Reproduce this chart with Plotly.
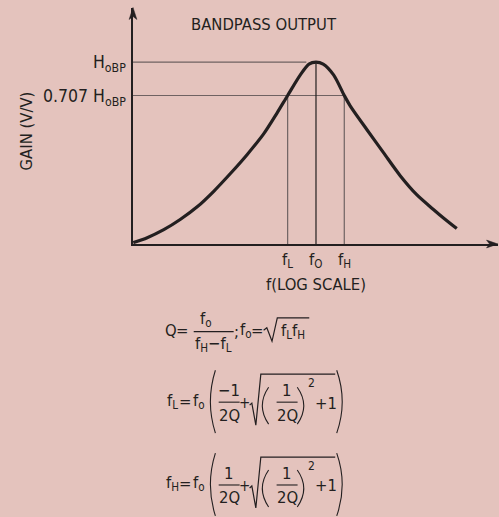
import numpy as np
import plotly.graph_objects as go

W, H = 499, 517

# Bandpass response: frequency normalised to f0 (log axis) and gain relative to H_oBP
freq = [0.0148, 0.0204, 0.0299, 0.0440, 0.0646, 0.0946, 0.139, 0.204, 0.299,
        0.407, 0.52, 0.697, 0.85, 1.0, 1.18, 1.50, 1.92, 2.20, 3.24, 4.74,
        6.97, 10.2, 15.0, 19.6, 25.7]
gain = [0.153, 0.161, 0.175, 0.195, 0.222, 0.261, 0.314, 0.382, 0.474,
        0.589, 0.707, 0.876, 0.98, 1.0, 0.98, 0.876, 0.707, 0.635, 0.495,
        0.390, 0.307, 0.252, 0.216, 0.195, 0.177]

# Corner frequencies and reference gain levels
f_L, f_0, f_H = 0.52, 1.0, 1.92
h_obp = 1.0
h_half = 0.707
h_line_end = 0.80          # where the H_oBP guide meets the curve

x_range = [0.0147, 66.5]
y_range = [0.1508, 1.757]

ML, MR, MT, MB = 132.5, 1, 8, 272.5
PW, PH = W - ML - MR, H - MT - MB

BG = "#e4c3bd"
INK = "#231f20"
GREY = "#6f6262"
FONT = "DejaVu Sans Condensed, Liberation Sans Narrow, sans-serif"
EQ = 16.5


def px(x, y):
    """pixel position on the page -> paper coordinates"""
    return (x - ML) / PW, (H - MB - y) / PH


fig = go.Figure()

# guide lines
x_lo = x_range[0]
y_lo = y_range[0]
fig.add_trace(go.Scatter(x=[x_lo, h_line_end], y=[h_obp, h_obp], mode="lines",
                         line=dict(color=GREY, width=1.2), hoverinfo="skip"))
fig.add_trace(go.Scatter(x=[x_lo, f_H], y=[h_half, h_half], mode="lines",
                         line=dict(color=GREY, width=1.2), hoverinfo="skip"))
for f, top, col in [(f_L, h_half, GREY), (f_H, h_half, GREY), (f_0, h_obp, INK)]:
    fig.add_trace(go.Scatter(x=[f, f], y=[y_lo, top], mode="lines",
                             line=dict(color=col, width=1.2), hoverinfo="skip"))

# response curve
fig.add_trace(go.Scatter(x=freq, y=gain, mode="lines",
                         line=dict(color=INK, width=3.2, shape="spline", smoothing=0.8),
                         hoverinfo="skip", cliponaxis=False))

shapes = []
ann = []


def path(pts, close=False, fill=None, width=1.3):
    d = ""
    for i, (x, y) in enumerate(pts):
        u, v = px(x, y)
        d += ("M" if i == 0 else "L") + f"{u:.5f},{v:.5f}"
    if close:
        d += "Z"
    shapes.append(dict(type="path", path=d, xref="paper", yref="paper",
                       line=dict(color=INK, width=width),
                       fillcolor=fill if fill else "rgba(0,0,0,0)"))


def paren(x_end, x_bulge, y0, y1, width=1.1):
    # quadratic arc: ends at x_end, furthest point at x_bulge
    xc = 2 * x_bulge - x_end
    a = px(x_end, y0)
    c = px(xc, (y0 + y1) / 2)
    b = px(x_end, y1)
    d = f"M{a[0]:.5f},{a[1]:.5f}Q{c[0]:.5f},{c[1]:.5f} {b[0]:.5f},{b[1]:.5f}"
    shapes.append(dict(type="path", path=d, xref="paper", yref="paper",
                       line=dict(color=INK, width=width)))


def bar(x0, x1, y, width=1.1):
    path([(x0, y), (x1, y)], width=width)


def txt(s, x, y, size=EQ, xa="center", ya="middle", angle=0):
    u, v = px(x, y)
    ann.append(dict(text=s, x=u, y=v, xref="paper", yref="paper",
                    xanchor=xa, yanchor=ya, showarrow=False, textangle=angle,
                    font=dict(family=FONT, size=size, color=INK)))


# arrow heads on the axes
path([(498, 244.5), (486.5, 240.6), (489.5, 244.5), (486.5, 248.4)], close=True, fill=INK, width=0.5)
path([(132.5, 7.5), (128.6, 19.5), (132.5, 16.5), (136.4, 19.5)], close=True, fill=INK, width=0.5)

# chart labels
txt("BANDPASS OUTPUT", 263.5, 25, size=16.5)
txt("H<sub>oBP</sub>", 127, 64, size=17.5, xa="right")
txt("0.707 H<sub>oBP</sub>", 127, 98, size=17.5, xa="right")
txt("GAIN (V/V)", 26, 131, size=16.5, angle=-90)
for f, s in [(f_L, "f<sub>L</sub>"), (f_0, "f<sub>O</sub>"), (f_H, "f<sub>H</sub>")]:
    ann.append(dict(text=s, x=np.log10(f), y=px(0, 261)[1], xref="x", yref="paper",
                    xanchor="center", yanchor="middle", showarrow=False,
                    font=dict(family=FONT, size=16.5, color=INK)))
txt("f(LOG SCALE)", 316, 285, size=16.5)

# Q = f0 / (fH - fL); f0 = sqrt(fL fH)
txt("Q", 171, 331)
txt("=", 182, 331)
txt("f<sub>o</sub>", 206, 320)
bar(193.3, 233.3, 332.3)
txt("f<sub>H</sub>\u2212f<sub>L</sub>", 213, 345)
txt(";", 236.5, 332)
txt("f<sub>o</sub>", 246, 331)
txt("=", 257, 331)
path([(263.3, 331), (266.5, 328.5), (271.7, 342), (277, 318.5), (309, 318.5)], width=1.2)
txt("f<sub>L</sub>f<sub>H</sub>", 293, 332)


def corner_eq(lhs, num, yb):
    # f = f0 ( num/2Q + sqrt( (1/2Q)^2 + 1 ) ), centred on fraction bar yb
    txt(lhs, 172, yb - 1)
    txt("=", 185, yb - 1)
    txt("f<sub>o</sub>", 198.5, yb - 1)
    paren(215, 210, yb - 32, yb + 31)
    txt(num, 228.5, yb - 12)
    bar(218.3, 239.3, yb)
    txt("2Q", 228.8, yb + 13)
    txt("+", 244.3, yb + 1, size=15)
    path([(249.3, yb + 3), (251.5, yb + 1), (255.5, yb + 23), (260.5, yb - 28), (335, yb - 28)], width=1.2)
    paren(268.3, 262, yb - 15, yb + 22)
    txt("1", 286.5, yb - 12)
    bar(276.3, 297.3, yb)
    txt("2Q", 286.8, yb + 13)
    paren(297, 303.5, yb - 15, yb + 22)
    txt("2", 311, yb - 19, size=12)
    txt("+1", 326, yb + 1)
    paren(336.5, 342, yb - 32, yb + 31)


corner_eq("f<sub>L</sub>", "\u22121", 403)
corner_eq("f<sub>H</sub>", "1", 486)

fig.update_layout(
    width=W, height=H,
    margin=dict(l=ML, r=MR, t=MT, b=MB, pad=0),
    paper_bgcolor=BG, plot_bgcolor=BG,
    showlegend=False,
    shapes=shapes, annotations=ann,
    xaxis=dict(type="log", range=[np.log10(v) for v in x_range], showgrid=False,
               zeroline=False, showticklabels=False, ticks="", showline=True,
               linecolor=INK, linewidth=2),
    yaxis=dict(type="log", range=[np.log10(v) for v in y_range], showgrid=False,
               zeroline=False, showticklabels=False, ticks="", showline=True,
               linecolor=INK, linewidth=2),
)

fig.write_html("out.html")
